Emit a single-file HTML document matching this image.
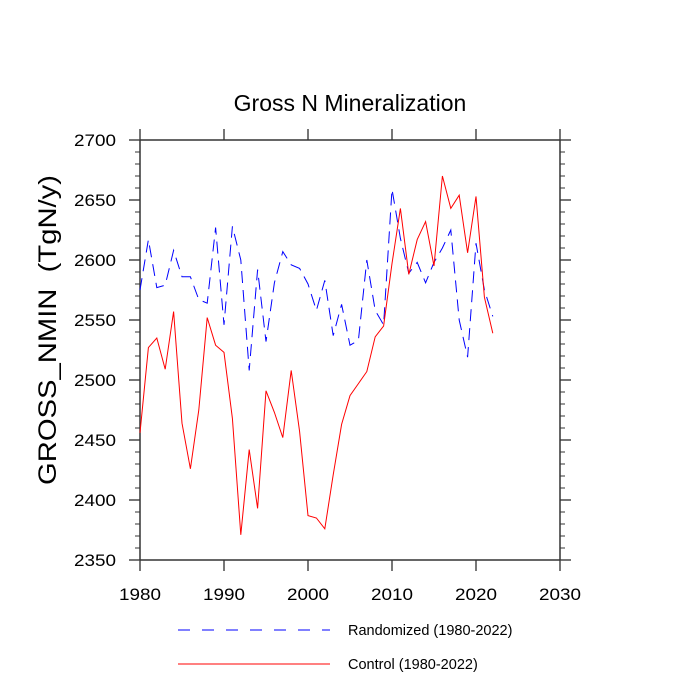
<!DOCTYPE html>
<html><head><meta charset="utf-8"><style>body{margin:0;background:#fff}svg{display:block}text{font-family:"Liberation Sans",sans-serif}</style></head>
<body>
<svg id="c" width="700" height="700"></svg>
<script>
const years=[];for(let y=1980;y<=2022;y++)years.push(y);
const control=[2456,2527,2535,2509,2557,2464,2426,2475,2552,2529,2523,2468,2371,2442,2393,2491,2473,2452,2508,2457,2387,2385,2376,2421,2463,2487,2497,2507,2536,2545,2597,2643,2588,2617,2632,2595,2670,2643,2654,2606,2653,2569,2539];
const randomized=[2575,2617,2577,2579,2608,2586,2586,2567,2564,2627,2546,2628,2600,2508,2592,2532,2581,2607,2596,2593,2580,2558,2583,2537,2563,2529,2533,2600,2558,2546,2659,2618,2589,2598,2581,2598,2610,2625,2550,2519,2614,2575,2553];
const xTicks=[1980,1990,2000,2010,2020,2030];
const yTicks=[2350,2400,2450,2500,2550,2600,2650,2700];
const NS="http://www.w3.org/2000/svg",svg=document.getElementById('c');
const L=140,R=560,T=140,B=560;
const sx=v=>L+(v-1980)/50*(R-L), sy=v=>B-(v-2350)/350*(B-T);
function mk(t,a,p){const e=document.createElementNS(NS,t);for(const k in a)e.setAttribute(k,a[k]);(p||svg).appendChild(e);return e;}
const tc="#777";
for(let v=2350;v<=2700;v+=10){const maj=v%50===0,len=maj?11:5;
 const a=mk('line',{x1:L-len,x2:L,y1:sy(v),y2:sy(v),stroke:tc,'stroke-width':maj?2:1.5});
 const b=mk('line',{x1:R,x2:R+len,y1:sy(v),y2:sy(v),stroke:tc,'stroke-width':maj?2:1.5});}
xTicks.forEach(v=>{
 const a=mk('line',{x1:sx(v),x2:sx(v),y1:B,y2:B+11,stroke:tc,'stroke-width':2});
 const b=mk('line',{x1:sx(v),x2:sx(v),y1:T-11,y2:T,stroke:tc,'stroke-width':2});
 const t=mk('text',{x:sx(v),y:B+40,'font-size':17,'text-anchor':'middle',textLength:42,lengthAdjust:'spacingAndGlyphs'});t.textContent=v;});
yTicks.forEach(v=>{const t=mk('text',{x:L-24,y:sy(v)+6,'font-size':17,'text-anchor':'end',textLength:42,lengthAdjust:'spacingAndGlyphs'});t.textContent=v;});
const fr=mk('rect',{x:L,y:T,width:R-L,height:B-T,fill:'none',stroke:'#333','stroke-width':1.5});
const p1=mk('polyline',{points:randomized.map((v,i)=>sx(years[i])+','+sy(v)).join(' '),fill:'none',stroke:'#00f','stroke-width':1,'stroke-dasharray':'12,7'});

const p2=mk('polyline',{points:control.map((v,i)=>sx(years[i])+','+sy(v)).join(' '),fill:'none',stroke:'#f00','stroke-width':1});

</script>
<svg style="position:absolute;left:0;top:0" width="700" height="700">
<text x="350" y="111" font-size="23" text-anchor="middle" style="font-family:'Liberation Sans',sans-serif">Gross N Mineralization</text>
<text transform="translate(56,330) rotate(-90)" font-size="25" text-anchor="middle" textLength="310" lengthAdjust="spacingAndGlyphs" style="font-family:'Liberation Sans',sans-serif;white-space:pre" xml:space="preserve">GROSS_NMIN  (TgN/y)</text>
<g>
<line x1="178" x2="330" y1="630" y2="630" stroke="#00f" stroke-width="1" stroke-dasharray="12,12"/>
<text x="348" y="635" font-size="14.5" style="font-family:'Liberation Sans',sans-serif">Randomized (1980-2022)</text>
<line x1="178" x2="330" y1="664" y2="664" stroke="#f00" stroke-width="1"/>
<text x="348" y="669" font-size="14.5" style="font-family:'Liberation Sans',sans-serif">Control (1980-2022)</text>
</g>
</svg>
</body></html>
